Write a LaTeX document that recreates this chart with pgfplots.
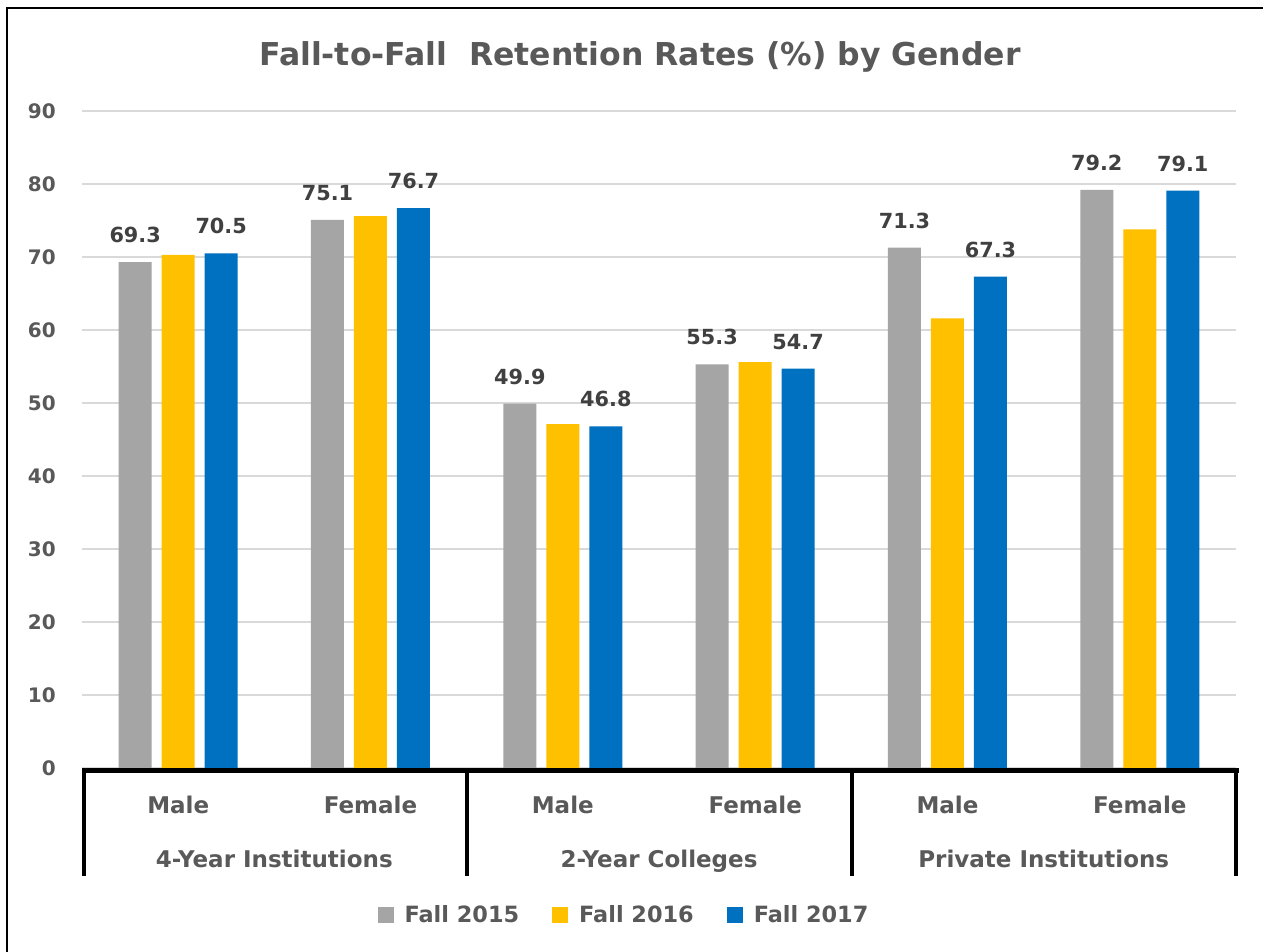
\documentclass[border=0pt]{standalone}
\usepackage{fontspec}
\setmainfont{DejaVu Sans}
\usepackage{pgfplots}
\pgfplotsset{compat=1.18}
\definecolor{cGray}{HTML}{A5A5A5}
\definecolor{cGold}{HTML}{FFC000}
\definecolor{cBlue}{HTML}{0070C0}
\definecolor{cGrid}{HTML}{D9D9D9}
\definecolor{cText}{HTML}{595959}
\definecolor{cLab}{HTML}{404040}
\begin{document}
\begin{tikzpicture}[x=1pt,y=1pt]
\useasboundingbox (0,0) rectangle (1263,951);
\fill[white] (0,0) rectangle (1263,951);
\draw[black,line width=2.5pt] (7,-5) -- (7,943) -- (1270,943);
\node[anchor=base,text=cText,font=\bfseries\fontsize{31.5}{36}\selectfont] at (640,885) {Fall-to-Fall\ \ Retention Rates (\%) by Gender};
\begin{axis}[
  at={(82pt,183pt)}, anchor=south west,
  scale only axis, width=1154pt, height=657pt,
  xmin=-0.5, xmax=5.5, ymin=0, ymax=90,
  ytick={0,10,...,90}, xtick=\empty,
  ymajorgrids, major grid style={draw=cGrid, line width=1.6pt},
  axis line style={draw=none}, tick style={draw=none},
  yticklabel style={font=\bfseries\fontsize{20}{24}\selectfont, text=cText, inner sep=0pt, anchor=east, xshift=-26pt},
  /pgf/number format/assume math mode=true,
  ybar=10pt, bar width=33pt,
  clip=false,
  every axis plot/.append style={draw=none},
  nodes near coords style={font=\bfseries\fontsize{20.8}{24}\selectfont, text=cLab, inner sep=0pt, yshift=19pt,
     /pgf/number format/.cd, fixed, precision=1, fixed zerofill, assume math mode=true},
  legend style={at={(0.4697,-0.2237)}, anchor=center, draw=none, fill=none,
     font=\bfseries\fontsize{22.4}{26}\selectfont, text=cText,
     /tikz/every odd column/.append style={column sep=9pt},
     /tikz/every even column/.append style={column sep=31pt}},
  legend columns=3,
  legend image code/.code={\fill[#1] (0pt,-8pt) rectangle (16pt,8pt);},
]
\addplot[fill=cGray, nodes near coords] coordinates {(0,69.3) (1,75.1) (2,49.9) (3,55.3) (4,71.3) (5,79.2)};
\addplot[fill=cGold] coordinates {(0,70.3) (1,75.6) (2,47.1) (3,55.6) (4,61.6) (5,73.8)};
\addplot[fill=cBlue, nodes near coords] coordinates {(0,70.5) (1,76.7) (2,46.8) (3,54.7) (4,67.3) (5,79.1)};
\legend{Fall 2015, Fall 2016, Fall 2017}
\end{axis}
\begin{scope}[font=\bfseries\fontsize{23}{27}\selectfont, text=cText]
\node[anchor=base] at (178.2,138) {Male};
\node[anchor=base] at (370.5,138) {Female};
\node[anchor=base] at (562.8,138) {Male};
\node[anchor=base] at (755.2,138) {Female};
\node[anchor=base] at (947.5,138) {Male};
\node[anchor=base] at (1139.8,138) {Female};
\node[anchor=base] at (274.3,84) {4-Year Institutions};
\node[anchor=base] at (659.0,84) {2-Year Colleges};
\node[anchor=base] at (1043.7,84) {Private Institutions};
\end{scope}
\draw[black,line width=5pt] (82,180.5) -- (1238.5,180.5);
\draw[black,line width=4.5pt] (84.2,183) -- (84.2,75);
\draw[black,line width=4.5pt] (467,183) -- (467,75);
\draw[black,line width=4.5pt] (852,183) -- (852,75);
\draw[black,line width=4.5pt] (1236,183) -- (1236,75);
\end{tikzpicture}
\end{document}
